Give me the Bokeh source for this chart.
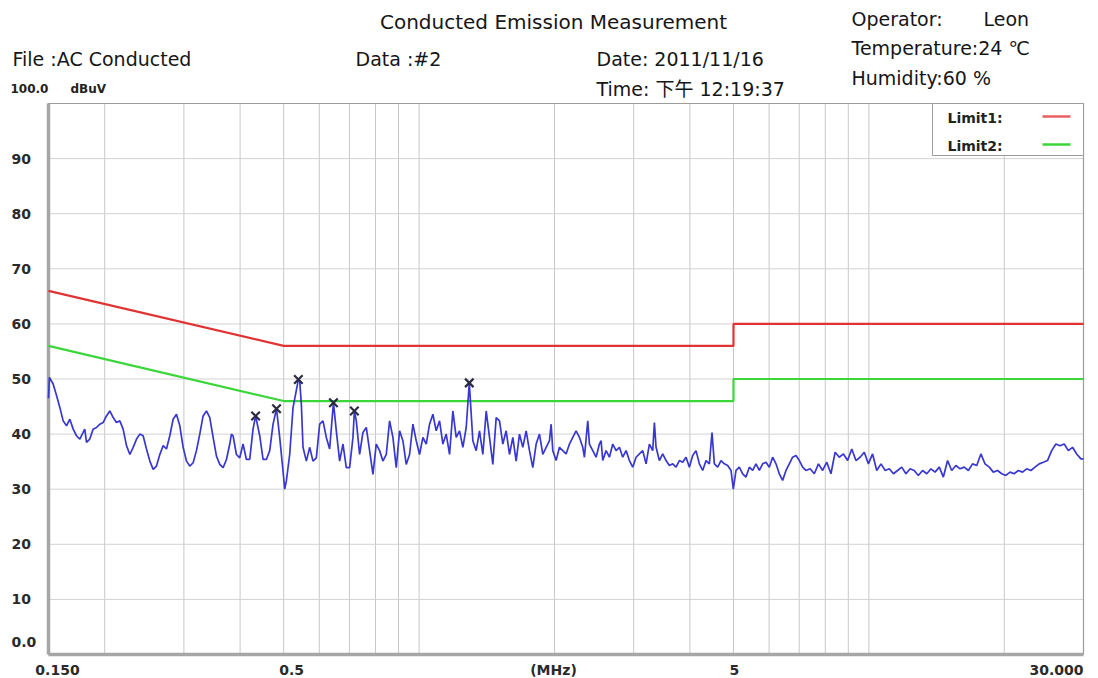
import math
from bokeh.plotting import figure
from bokeh.models import Range1d, Label
from bokeh.embed import file_html
from bokeh.resources import INLINE

# ---------------- data ----------------
trace_freq = [
    0.1500, 0.1507, 0.1536, 0.1563, 0.1590, 0.1617, 0.1645, 0.1673, 0.1702, 0.1731,
    0.1761, 0.1791, 0.1806, 0.1822, 0.1853, 0.1885, 0.1918, 0.1951, 0.1984, 0.2018,
    0.2053, 0.2089, 0.2124, 0.2161, 0.2198, 0.2236, 0.2275, 0.2314, 0.2354, 0.2394,
    0.2435, 0.2477, 0.2520, 0.2563, 0.2607, 0.2652, 0.2698, 0.2744, 0.2791, 0.2839,
    0.2888, 0.2938, 0.2988, 0.3040, 0.3092, 0.3145, 0.3199, 0.3254, 0.3310, 0.3367,
    0.3425, 0.3484, 0.3544, 0.3605, 0.3667, 0.3730, 0.3794, 0.3826, 0.3859, 0.3925,
    0.3993, 0.4061, 0.4131, 0.4202, 0.4274, 0.4330, 0.4423, 0.4499, 0.4576, 0.4655,
    0.4735, 0.4820, 0.4899, 0.4983, 0.5026, 0.5069, 0.5156, 0.5245, 0.5390, 0.5427,
    0.5473, 0.5520, 0.5615, 0.5711, 0.5809, 0.5909, 0.6011, 0.6114, 0.6219, 0.6326,
    0.6450, 0.6546, 0.6658, 0.6773, 0.6889, 0.7007, 0.7128, 0.7180, 0.7251, 0.7375,
    0.7502, 0.7631, 0.7762, 0.7896, 0.8031, 0.8170, 0.8310, 0.8453, 0.8598, 0.8746,
    0.8896, 0.9049, 0.9205, 0.9363, 0.9524, 0.9688, 0.9855, 1.0024, 1.0197, 1.0372,
    1.0550, 1.0732, 1.0916, 1.1104, 1.1295, 1.1489, 1.1687, 1.1888, 1.2092, 1.2300,
    1.2512, 1.2727, 1.2930, 1.3168, 1.3395, 1.3625, 1.3859, 1.4098, 1.4340, 1.4587,
    1.4838, 1.5093, 1.5352, 1.5616, 1.5885, 1.6158, 1.6436, 1.6719, 1.7006, 1.7298,
    1.7596, 1.7898, 1.8206, 1.8519, 1.8838, 1.9162, 1.9491, 1.9658, 1.9826, 2.0167,
    2.0514, 2.0867, 2.1226, 2.1591, 2.1962, 2.2340, 2.2724, 2.3115, 2.3313, 2.3713,
    2.3917, 2.4328, 2.4747, 2.5172, 2.5388, 2.5605, 2.6046, 2.6494, 2.6949, 2.7413,
    2.7884, 2.8364, 2.8852, 2.9348, 2.9853, 3.0366, 3.0888, 3.1420, 3.1960, 3.2510,
    3.3069, 3.3352, 3.3638, 3.4216, 3.4805, 3.5403, 3.6012, 3.6632, 3.7262, 3.7903,
    3.8555, 3.9218, 3.9892, 4.0578, 4.1276, 4.1986, 4.2708, 4.3443, 4.4190, 4.4795,
    4.5338, 4.6115, 4.6908, 4.7715, 4.8535, 4.9370, 4.9960, 5.0649, 5.1520, 5.2406,
    5.3308, 5.4225, 5.5157, 5.6106, 5.7071, 5.8053, 5.9051, 6.0067, 6.1100, 6.2151,
    6.3220, 6.4307, 6.5413, 6.6538, 6.7683, 6.8847, 7.0031, 7.1235, 7.246, 7.402,
    7.562, 7.725, 7.891, 8.061, 8.235, 8.412, 8.593, 8.778, 8.968, 9.161,
    9.358, 9.560, 9.766, 9.976, 10.19, 10.41, 10.64, 10.87, 11.10, 11.34,
    11.58, 11.83, 12.09, 12.35, 12.61, 12.88, 13.16, 13.45, 13.74, 14.03,
    14.34, 14.64, 14.96, 15.28, 15.61, 15.95, 16.29, 16.64, 17.00, 17.37,
    17.74, 18.12, 18.52, 18.91, 19.32, 19.74, 20.16, 20.60, 21.04, 21.49,
    21.96, 22.43, 22.92, 23.41, 23.91, 24.43, 24.95, 25.49, 26.04, 26.60,
    27.18, 27.76, 28.36, 28.97, 29.60, 30.00,
]
trace_level = [
    46.5, 50.3, 49.1, 47.0, 44.8, 42.4, 41.5, 42.7, 40.9, 39.7,
    39.1, 40.3, 40.9, 38.5, 39.1, 40.9, 41.2, 41.8, 42.1, 43.3,
    44.2, 43.0, 42.1, 42.4, 40.9, 37.9, 36.3, 37.6, 39.1, 40.0,
    39.7, 37.3, 35.1, 33.6, 34.2, 36.3, 37.9, 37.3, 39.7, 42.7,
    43.6, 41.5, 37.6, 35.1, 34.2, 34.8, 37.0, 40.0, 43.3, 44.2,
    43.0, 39.4, 36.0, 34.5, 33.9, 35.4, 38.2, 40.0, 39.7, 36.3,
    35.7, 38.2, 35.4, 35.4, 40.9, 43.3, 39.7, 35.4, 35.4, 37.0,
    41.8, 44.6, 39.4, 33.3, 30.0, 31.5, 36.3, 44.8, 49.9, 49.7,
    45.4, 37.6, 35.1, 37.6, 35.1, 35.7, 41.8, 42.4, 39.4, 37.3,
    45.7, 40.6, 35.1, 38.2, 33.9, 33.9, 39.4, 44.2, 42.4, 36.3,
    40.3, 41.2, 37.0, 32.7, 38.2, 37.0, 35.1, 36.3, 42.4, 39.4,
    33.9, 40.6, 38.8, 34.5, 36.3, 41.8, 38.8, 36.3, 39.4, 38.2,
    41.8, 43.6, 40.6, 42.4, 38.2, 40.0, 36.3, 44.2, 39.4, 40.6,
    37.6, 41.2, 49.3, 38.8, 37.0, 40.6, 36.3, 44.2, 39.4, 34.5,
    43.0, 42.4, 38.2, 40.6, 36.3, 39.4, 35.1, 40.0, 37.6, 40.6,
    37.0, 33.9, 38.2, 40.0, 36.3, 37.6, 38.8, 41.8, 37.0, 35.2,
    37.6, 37.0, 36.4, 38.2, 39.4, 40.6, 39.4, 37.6, 35.8, 42.4,
    38.2, 37.0, 35.8, 38.2, 38.8, 35.2, 37.0, 35.8, 38.2, 37.0,
    37.6, 35.8, 37.0, 35.2, 34.0, 35.8, 36.4, 37.0, 34.6, 38.2,
    37.0, 42.1, 37.6, 35.2, 36.4, 35.2, 34.3, 34.6, 34.0, 35.2,
    34.9, 35.8, 34.0, 36.1, 37.0, 34.6, 33.4, 35.2, 34.6, 40.3,
    34.6, 34.0, 35.2, 34.6, 34.3, 33.4, 30.0, 33.4, 34.0, 32.8,
    32.2, 34.0, 33.4, 34.6, 33.4, 34.6, 34.9, 34.0, 35.8, 34.6,
    32.8, 31.6, 33.4, 34.6, 35.8, 36.1, 35.2, 34.0, 33.4, 33.7,
    32.8, 34.6, 33.4, 34.9, 32.8, 36.7, 35.8, 36.4, 35.2, 37.3,
    35.2, 35.8, 36.7, 34.6, 36.4, 33.4, 34.6, 33.4, 33.7, 32.8,
    33.4, 34.0, 32.8, 33.7, 33.4, 32.5, 33.4, 32.8, 33.7, 33.1,
    34.0, 32.2, 35.2, 33.4, 34.3, 33.7, 34.0, 33.4, 34.6, 34.3,
    36.4, 34.6, 34.0, 33.1, 33.4, 32.8, 32.5, 33.1, 32.8, 33.4,
    33.1, 33.7, 33.4, 34.0, 34.6, 34.9, 35.2, 37.0, 38.2, 37.9,
    38.2, 37.0, 37.6, 36.4, 35.5, 35.5,
]

limit1_freq = [0.15, 0.5, 5.0, 5.0, 30.0]
limit1_level = [66.0, 56.0, 56.0, 60.0, 60.0]
limit2_freq = [0.15, 0.5, 5.0, 5.0, 30.0]
limit2_level = [56.0, 46.0, 46.0, 50.0, 50.0]

peak_freq = [0.433, 0.482, 0.539, 0.645, 0.718, 1.293]
peak_level = [43.3, 44.6, 49.9, 45.7, 44.2, 49.3]

ytick_values = [0, 10, 20, 30, 40, 50, 60, 70, 80, 90]
ytick_labels = ["0.0", "10", "20", "30", "40", "50", "60", "70", "80", "90"]
xtick_values = [0.15, 0.5, 5.0, 30.0]
xtick_labels = ["0.150", "0.5", "5", "30.000"]
xgrid_values = [0.2, 0.3, 0.4, 0.5, 0.6, 0.7, 0.8, 0.9, 1, 2, 3, 4, 5, 6, 7, 8, 9, 10, 20]

# ---------------- layout ----------------
W, H = 1098, 678
PL, PR, PT, PB = 48, 1083, 103, 654   # plot area in canvas pixels
X0, X1 = 0.15, 30.0
Y0, Y1 = 0.0, 100.0
FONT = "DejaVu Sans"
HFONT = "'DejaVu Sans', 'Noto Sans CJK SC'"


def px2f(px):
    """canvas pixel x -> frequency (used to place texts / decorations)"""
    return 10 ** (math.log10(X0) + (px - PL) / (PR - PL) * math.log10(X1 / X0))


def py2v(py):
    """canvas pixel y -> level"""
    return Y1 - (py - PT) / (PB - PT) * (Y1 - Y0)


p = figure(width=W, height=H, x_axis_type="log",
           x_range=Range1d(px2f(0), px2f(W)), y_range=Range1d(py2v(H), py2v(0)),
           output_backend="svg", toolbar_location=None,
           min_border=0, min_border_left=0, min_border_right=0,
           min_border_top=0, min_border_bottom=0)
p.background_fill_color = "white"
p.border_fill_color = "white"
p.outline_line_color = None
p.xaxis.visible = False
p.yaxis.visible = False
p.grid.visible = False

# grid lines inside the plot area
p.segment(x0=xgrid_values, y0=[Y0] * len(xgrid_values), x1=xgrid_values, y1=[Y1] * len(xgrid_values),
          line_color="#c8c8c8", line_width=1)
p.segment(x0=[X0] * 9, y0=ytick_values[1:], x1=[X1] * 9, y1=ytick_values[1:],
          line_color="#d2d2d2", line_width=1)

# plot frame
p.quad(left=[X0], right=[X1], bottom=[Y0], top=[Y1], fill_color=None,
       line_color="#9c9c9c", line_width=1.2)
p.segment(x0=[X0, X0], y0=[Y0, Y0], x1=[X0, X1], y1=[Y1, Y0],
          line_color="#a6a6a6", line_width=3.5)

# limit lines
p.line(limit1_freq, limit1_level, line_color="#e03434", line_width=2.2)
p.line(limit2_freq, limit2_level, line_color="#3ad63a", line_width=2.2)

# measured trace
p.line(trace_freq, trace_level, line_color="#3838d0", line_width=1.7)

# peak markers
p.scatter(peak_freq, peak_level, marker="x", size=12, line_width=2.2, line_color="#2a2a42")

# legend box (top right)
p.quad(left=[px2f(932)], right=[X1], bottom=[py2v(155)], top=[Y1],
       fill_color="white", line_color="#9c9c9c", line_width=1)
p.segment(x0=[px2f(1042)], y0=[py2v(116)], x1=[px2f(1070)], y1=[py2v(116)],
          line_color="#e86060", line_width=2.5)
p.segment(x0=[px2f(1042)], y0=[py2v(144)], x1=[px2f(1070)], y1=[py2v(144)],
          line_color="#3ad63a", line_width=2.5)


def add_text(text, px, py, size, bold=False, align="left", color="#161616", font=FONT):
    p.add_layout(Label(x=px2f(px), y=py2v(py), text=text, text_font=font,
                       text_font_size=f"{size}px",
                       text_font_style="bold" if bold else "normal",
                       text_align=align, text_baseline="middle",
                       text_color=color))


add_text("Limit1:", 947, 117, 14, bold=True, color="#222222")
add_text("Limit2:", 947, 145, 14, bold=True, color="#222222")

# header texts
add_text("Conducted Emission Measurement", 553, 21, 20, align="center", font=HFONT)
add_text("File :AC Conducted", 12, 58, 19, font=HFONT)
add_text("Data :#2", 355, 58, 19, font=HFONT)
add_text("Date: 2011/11/16", 596, 58, 19, font=HFONT)
add_text("Time: 下午 12:19:37", 596, 88, 19, font=HFONT)
add_text("Operator:", 851, 18, 19, font=HFONT)
add_text("Leon", 983, 18, 19, font=HFONT)
add_text("Temperature:24 ℃", 851, 47, 19, font=HFONT)
add_text("Humidity:60 %", 851, 77, 19, font=HFONT)
add_text("100.0", 10, 88, 12, bold=True, color="#222222")
add_text("dBuV", 70, 88, 12, bold=True, color="#222222")

# y tick labels
for v, lab in zip(ytick_values, ytick_labels):
    p.add_layout(Label(x=px2f(11), y=v, text=lab, text_font=FONT, text_font_size="14px",
                       text_font_style="bold", text_align="left",
                       text_baseline="middle", text_color="#2a2a2a",
                       y_offset=13 if v == 0 else 0))

# x tick labels
x_align = {"0.150": ("center", 9), "0.5": ("center", 8), "5": ("center", 1), "30.000": ("right", 0)}
for v, lab in zip(xtick_values, xtick_labels):
    al, off = x_align[lab]
    p.add_layout(Label(x=v, y=py2v(669), text=lab, text_font=FONT, text_font_size="14px",
                       text_font_style="bold", text_align=al, x_offset=off,
                       text_baseline="middle", text_color="#2a2a2a"))
add_text("(MHz)", 553, 669, 14, bold=True, align="center", color="#2a2a2a")

open("out.html", "w").write(file_html(p, INLINE))
